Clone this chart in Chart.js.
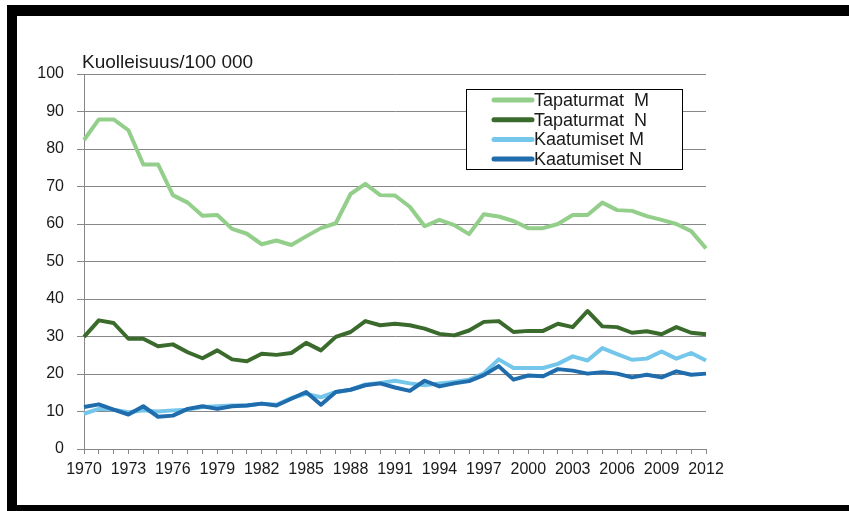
<!DOCTYPE html>
<html>
<head>
<meta charset="utf-8">
<script src="https://cdn.jsdelivr.net/npm/chart.js@4.4.1/dist/chart.umd.min.js"></script>
<style>
  html, body { margin: 0; padding: 0; background: #ffffff; }
  #wrap { position: relative; width: 849px; height: 511px; overflow: hidden; background: #fff; }
  #c { position: absolute; left: 0; top: 0; }
  .band { position: absolute; background: #000; }
</style>
</head>
<body>
<div id="wrap">
  <canvas id="c" width="849" height="511"></canvas>
  <div class="band" style="left:7px; top:5px; width:842px; height:11px;"></div>
  <div class="band" style="left:7px; top:5px; width:10px; height:506px;"></div>
  <div class="band" style="left:7px; top:505px; width:842px; height:6px;"></div>
</div>
<script>
const years = ['1970','1971','1972','1973','1974','1975','1976','1977','1978','1979',
  '1980','1981','1982','1983','1984','1985','1986','1987','1988','1989',
  '1990','1991','1992','1993','1994','1995','1996','1997','1998','1999',
  '2000','2001','2002','2003','2004','2005','2006','2007','2008','2009',
  '2010','2011','2012'];
const shownYearLabels = ['1970','1973','1976','1979','1982','1985','1988','1991','1994','1997','2000','2003','2006','2009','2012'];
const yTicks = [0,10,20,30,40,50,60,70,80,90,100];
const seriesNames = ['Tapaturmat  M', 'Tapaturmat  N', 'Kaatumiset M', 'Kaatumiset N'];

const tapaturmatM = [82.4,87.9,87.9,85.0,75.9,75.9,67.7,65.7,62.2,62.4,
  58.7,57.4,54.6,55.6,54.4,56.7,58.9,60.2,68.0,70.7,
  67.7,67.6,64.6,59.4,61.1,59.7,57.3,62.6,62.0,60.8,
  58.9,58.9,60.0,62.4,62.4,65.7,63.7,63.5,62.1,61.1,
  60.0,58.1,53.5];
const tapaturmatN = [29.9,34.3,33.6,29.4,29.4,27.4,27.9,25.8,24.2,26.3,
  23.9,23.4,25.4,25.1,25.6,28.3,26.3,29.9,31.2,34.1,
  33.0,33.4,33.0,32.1,30.7,30.3,31.6,33.9,34.1,31.2,
  31.5,31.5,33.4,32.5,36.8,32.7,32.5,31.0,31.4,30.6,
  32.5,31.0,30.6];
const kaatumisetM = [9.4,10.7,10.5,9.8,10.3,10.0,10.3,10.5,11.2,11.4,
  11.6,11.6,12.1,11.8,13.6,14.7,13.8,15.2,15.8,17.2,
  17.6,18.2,17.5,17.0,17.5,17.9,18.5,20.2,23.9,21.6,
  21.6,21.6,22.7,24.7,23.6,26.9,25.3,23.8,24.1,26.0,
  24.1,25.6,23.6];
const kaatumisetN = [11.2,11.9,10.5,9.2,11.4,8.6,8.9,10.7,11.4,10.7,
  11.4,11.6,12.1,11.6,13.4,15.2,11.8,15.2,15.8,17.0,
  17.5,16.4,15.5,18.2,16.7,17.5,18.1,19.7,22.1,18.5,
  19.6,19.4,21.3,20.9,20.1,20.5,20.1,19.1,19.8,19.1,
  20.7,19.8,20.1];

const colors = ['#93CF8B', '#3A6B2C', '#74C6EA', '#1F6DAD'];
const seriesData = [tapaturmatM, tapaturmatN, kaatumisetM, kaatumisetN];
const FONT = '"Liberation Sans", Arial, sans-serif';
const GRID = '#878787';

const titlePlugin = {
  id: 'axisTitle',
  afterDraw(chart) {
    const ctx = chart.ctx, a = chart.chartArea;
    ctx.save();
    ctx.font = '19px ' + FONT;
    ctx.fillStyle = '#1a1a1a';
    ctx.textAlign = 'left';
    ctx.textBaseline = 'alphabetic';
    ctx.fillText('Kuolleisuus/100 000', a.left - 2, a.top - 6);
    ctx.restore();
  }
};

const legendPlugin = {
  id: 'boxLegend',
  afterDraw(chart) {
    const ctx = chart.ctx, a = chart.chartArea;
    const bx = a.right - 240, by = a.top + 15, bw = 216, bh = 80;
    ctx.save();
    ctx.fillStyle = '#ffffff';
    ctx.fillRect(bx, by, bw, bh);
    ctx.strokeStyle = '#000000';
    ctx.lineWidth = 1;
    ctx.strokeRect(bx + 0.5, by + 0.5, bw, bh);
    ctx.font = '18px ' + FONT;
    ctx.textAlign = 'left';
    ctx.textBaseline = 'middle';
    chart.data.datasets.forEach((ds, i) => {
      const cy = by + 11 + i * 19.7;
      ctx.strokeStyle = ds.borderColor;
      ctx.lineWidth = 5;
      ctx.lineCap = 'round';
      ctx.beginPath();
      ctx.moveTo(bx + 28, cy);
      ctx.lineTo(bx + 66, cy);
      ctx.stroke();
      ctx.fillStyle = '#1a1a1a';
      ctx.fillText(ds.label, bx + 68, cy + 1);
    });
    ctx.restore();
  }
};

new Chart(document.getElementById('c'), {
  type: 'line',
  data: {
    labels: years,
    datasets: seriesNames.map((name, i) => ({
      label: name,
      data: seriesData[i],
      borderColor: colors[i],
      backgroundColor: colors[i],
      borderWidth: 4,
      pointRadius: 0,
      tension: 0,
      fill: false,
      borderJoinStyle: 'round',
      order: 3 - i
    }))
  },
  options: {
    responsive: false,
    animation: false,
    devicePixelRatio: 1,
    layout: { padding: { left: 20, right: 143, top: 74, bottom: 22 } },
    plugins: { legend: { display: false }, tooltip: { enabled: false }, title: { display: false } },
    scales: {
      x: {
        type: 'category',
        offset: false,
        afterFit(scale) { scale.height = 40; },
        grid: { drawOnChartArea: false, drawTicks: true, tickLength: 5, color: GRID, lineWidth: 1 },
        border: { display: true, color: GRID, width: 1 },
        ticks: {
          autoSkip: false, maxRotation: 0, minRotation: 0, padding: 6,
          color: '#1a1a1a', font: { family: FONT, size: 16 },
          callback(value, index) {
            const lab = years[index];
            return shownYearLabels.includes(lab) ? lab : '';
          }
        }
      },
      y: {
        min: yTicks[0], max: yTicks[yTicks.length - 1],
        afterFit(scale) { scale.width = 64; },
        afterBuildTicks(scale) { scale.ticks = yTicks.map(v => ({ value: v })); },
        grid: { color: GRID, lineWidth: 1, tickLength: 7, drawTicks: true },
        border: { display: true, color: GRID, width: 1 },
        ticks: { padding: 13, color: '#1a1a1a', font: { family: FONT, size: 16 } }
      }
    }
  },
  plugins: [titlePlugin, legendPlugin]
});
</script>
</body>
</html>
